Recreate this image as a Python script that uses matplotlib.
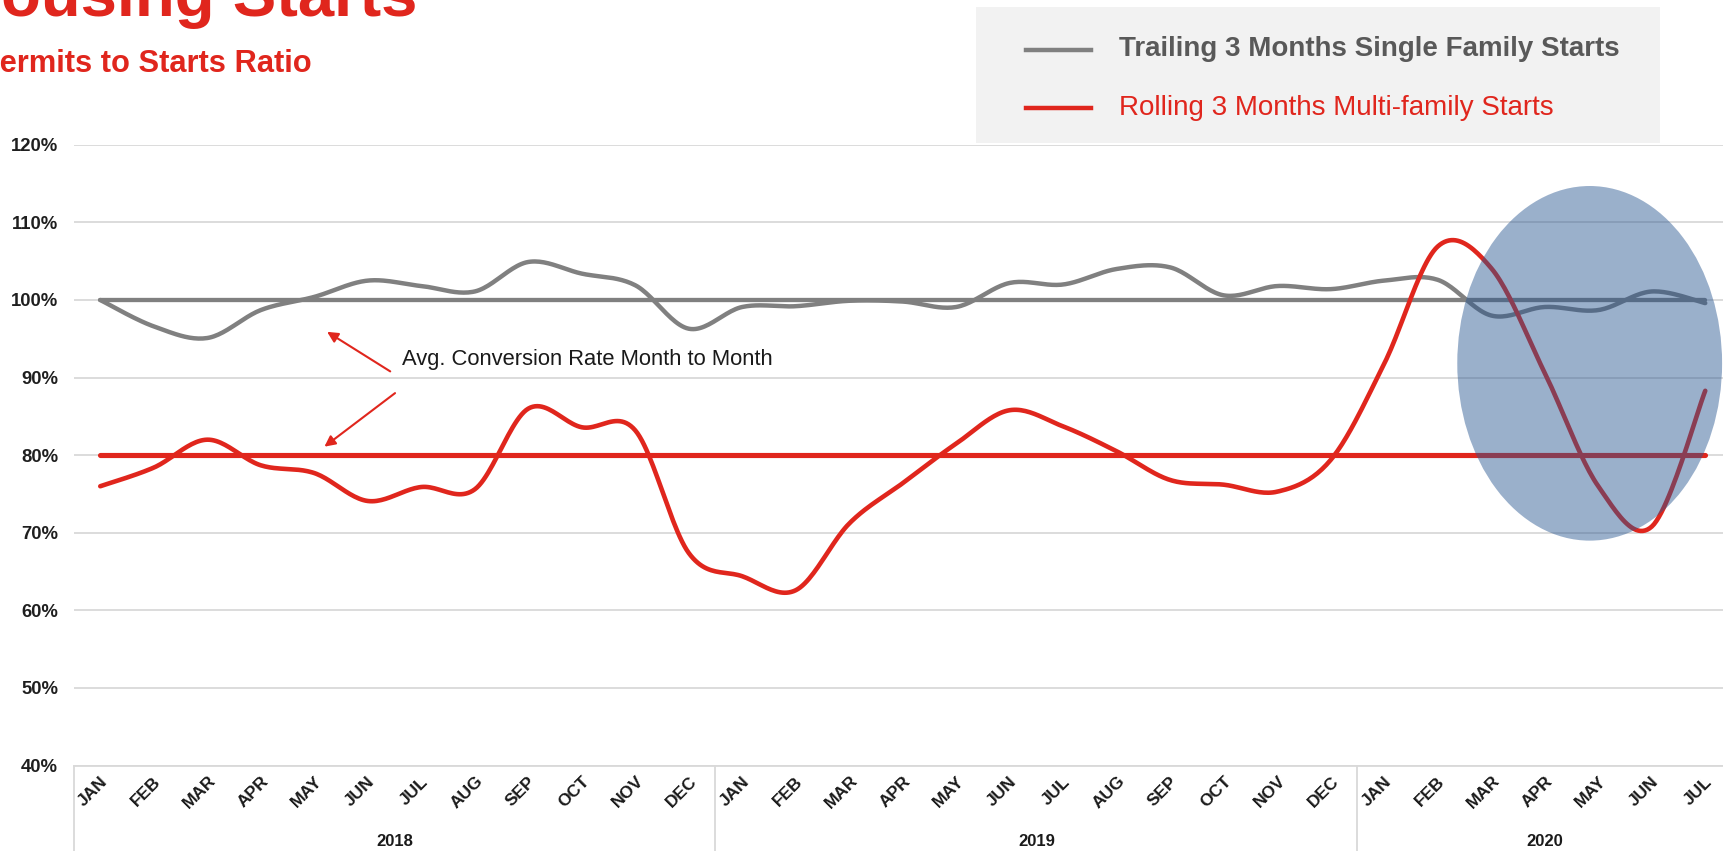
import numpy as np
import matplotlib
matplotlib.use("Agg")
import matplotlib.pyplot as plt
from matplotlib.patches import Ellipse, Rectangle
from matplotlib.lines import Line2D
import matplotlib.transforms as mtransforms

plt.rcParams['font.family'] = ['Liberation Sans', 'DejaVu Sans']

# ---- data -------------------------------------------------------------
months = ["JAN", "FEB", "MAR", "APR", "MAY", "JUN", "JUL", "AUG", "SEP", "OCT", "NOV", "DEC",
          "JAN", "FEB", "MAR", "APR", "MAY", "JUN", "JUL", "AUG", "SEP", "OCT", "NOV", "DEC",
          "JAN", "FEB", "MAR", "APR", "MAY", "JUN", "JUL"]
years = ["2018", "2019", "2020"]
year_lengths = [12, 12, 7]

# permits-to-starts ratio, percent
single_family = [100.0, 96.6, 95.1, 98.7, 100.4, 102.5, 101.8, 101.1, 104.9, 103.4, 101.9, 96.3,
                 99.1, 99.2, 99.9, 99.8, 99.1, 102.2, 102.0, 104.0, 104.2, 100.6, 101.8, 101.4,
                 102.5, 102.6, 98.0, 99.1, 98.7, 101.1, 99.6]
multi_family = [76.0, 78.4, 82.0, 78.7, 77.7, 74.1, 75.9, 75.6, 86.0, 83.6, 83.2, 67.4,
                64.4, 62.6, 71.2, 76.4, 81.5, 85.8, 83.7, 80.5, 76.8, 76.2, 75.3, 79.4,
                91.8, 106.9, 104.1, 90.6, 76.0, 70.8, 88.3]
avg_single = 100.0
avg_multi = 80.0

y_ticks = [40, 50, 60, 70, 80, 90, 100, 110, 120]

RED = "#E0261D"
GRAY = "#808080"
GRID = "#D9D9D9"


def smooth(values, n=24):
    """Bezier smoothing through every point (Catmull-Rom style control points)."""
    y = np.asarray(values, float)
    x = np.arange(len(y), dtype=float)
    P = np.column_stack([x, y])
    Pext = np.vstack([P[0], P, P[-1]])
    t = np.linspace(0, 1, n, endpoint=False)[:, None]
    segs = []
    for k in range(len(P) - 1):
        p0, p1, p2, p3 = Pext[k], Pext[k + 1], Pext[k + 2], Pext[k + 3]
        c1 = p1 + (p2 - p0) / 6.0
        c2 = p2 - (p3 - p1) / 6.0
        segs.append((1 - t) ** 3 * p1 + 3 * (1 - t) ** 2 * t * c1
                    + 3 * (1 - t) * t ** 2 * c2 + t ** 3 * p2)
    segs.append(P[-1][None, :])
    pts = np.vstack(segs)
    return pts[:, 0], pts[:, 1]


W, H = 1724, 851
fig = plt.figure(figsize=(W / 100, H / 100), dpi=100)
fig.patch.set_facecolor("white")

# plot area runs slightly past the right edge of the canvas
ax = fig.add_axes([73.5 / W, 85.4 / H, 1658.5 / W, 620.8 / H])
n = len(months)
xs = np.arange(n)
ax.set_xlim(-0.5, n - 0.5)
ax.set_ylim(40, 120)

ax.set_yticks(y_ticks)
ax.set_yticklabels([f"{v}%" for v in y_ticks], fontsize=13.3, fontweight="bold", color="#1f1f1f")
ax.tick_params(axis="y", length=0, pad=11)
ax.set_xticks([])
ax.yaxis.grid(True, color=GRID, lw=1.3, zorder=0)
ax.set_axisbelow(True)
for s in ["top", "left", "right"]:
    ax.spines[s].set_visible(False)
ax.spines["bottom"].set_color(GRID)
ax.spines["bottom"].set_linewidth(1.3)

# average reference lines
ax.plot(xs, [avg_single] * n, color=GRAY, lw=3.1, solid_capstyle="round", zorder=3)
ax.plot(xs, [avg_multi] * n, color=RED, lw=3.7, solid_capstyle="round", zorder=3)

# smoothed series
sx, sy = smooth(single_family)
ax.plot(sx, sy, color=GRAY, lw=3.2, solid_capstyle="round", zorder=4)
mx, my = smooth(multi_family)
ax.plot(mx, my, color=RED, lw=3.3, solid_capstyle="round", zorder=4)

# highlight of the 2020 swing
ax.add_patch(Ellipse((27.84, 91.84), 4.95, 45.7, facecolor="#2A5791", alpha=0.47,
                     edgecolor="none", zorder=6))

# annotation for the average lines
arrow_kw = dict(arrowstyle="-|>", color=RED, lw=1.5, mutation_scale=16, shrinkA=0, shrinkB=0)
ax.annotate("", xy=(4.24, 95.9), xytext=(5.42, 90.8), arrowprops=arrow_kw, zorder=7)
ax.annotate("", xy=(4.19, 81.1), xytext=(5.51, 88.0), arrowprops=arrow_kw, zorder=7)
ax.text(5.64, 92.35, "Avg. Conversion Rate Month to Month", fontsize=15.8, color="#1a1a1a",
        ha="left", va="center", zorder=7)

# category axis: months, years and separators
trans = mtransforms.blended_transform_factory(ax.transData, ax.transAxes)
for i, m in enumerate(months):
    ax.text(i - 0.14, -0.042, m, transform=trans, rotation=45, rotation_mode="anchor",
            ha="center", va="center", fontsize=12.5, fontweight="bold", color="#1a1a1a",
            clip_on=False)
start = 0
for yr, ln in zip(years, year_lengths):
    ax.text(start + ln / 2 - 0.5, -0.1215, yr, transform=trans, ha="center", va="center",
            fontsize=12, fontweight="bold", color="#1a1a1a", clip_on=False)
    ax.add_line(Line2D([start - 0.5, start - 0.5], [0, -0.14], transform=trans, color=GRID,
                       lw=1.3, clip_on=False))
    start += ln

# titles (page header, partly cut off at the left edge)
fig.text(-46 / W, 1 - 16 / H, "Housing Starts", fontsize=47, fontweight="bold", color=RED,
         ha="left", va="baseline")
fig.text(-21 / W, 1 - 72 / H, "Permits to Starts Ratio", fontsize=22.2, fontweight="bold",
         color=RED, ha="left", va="baseline")

# legend panel
fig.add_artist(Rectangle((976 / W, 1 - 143 / H), 684 / W, 136 / H, transform=fig.transFigure,
                         facecolor="#F2F2F2", edgecolor="none", zorder=1))
fig.add_artist(Line2D([1026 / W, 1091 / W], [1 - 49.5 / H] * 2, transform=fig.transFigure,
                      color=GRAY, lw=3.2, zorder=2))
fig.add_artist(Line2D([1026 / W, 1091 / W], [1 - 107.7 / H] * 2, transform=fig.transFigure,
                      color=RED, lw=3.2, zorder=2))
fig.text(1119 / W, 1 - 49.5 / H, "Trailing 3 Months Single Family Starts", fontsize=20,
         fontweight="bold", color="#595959", ha="left", va="center", zorder=2)
fig.text(1119 / W, 1 - 107.7 / H, "Rolling 3 Months Multi-family Starts", fontsize=20,
         color=RED, ha="left", va="center", zorder=2)

fig.savefig("out.png", dpi=100)
